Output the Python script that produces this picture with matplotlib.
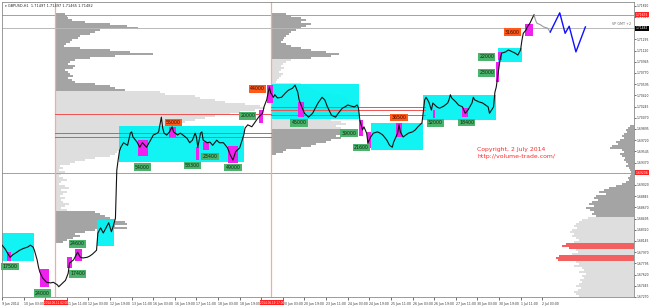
import matplotlib
matplotlib.use("Agg")
import matplotlib.pyplot as plt
import matplotlib.transforms as mtransforms
import numpy as np

# ---------------- price path (H1 bar index, price) ----------------
bar_idx = [0, 2, 4, 6, 8, 11, 13, 16, 19, 21, 23, 24, 26, 27, 28, 30, 33, 36, 38, 41, 42, 44, 47, 49,
           50, 53, 54, 56, 58, 60, 63, 65, 67, 70, 71, 73, 75, 77, 79, 81, 82, 84, 85, 86, 87, 88,
           90, 93, 95, 96, 97, 100, 102, 104, 107, 110, 112, 115, 116, 118, 119, 120, 122, 124, 126,
           127, 130, 132, 134, 137, 139, 141, 143, 144, 145, 147, 148, 149, 152, 154, 156, 159, 161,
           164, 167, 169, 171, 173, 176, 179, 180, 182, 185, 187, 190, 193, 194, 196, 198, 199, 201,
           202, 204, 207, 210, 212, 215, 217, 219, 220, 222, 224, 227, 230, 232, 234, 237, 239, 241,
           244, 247, 249, 252, 254, 256, 259, 261, 263, 264, 265, 267, 268, 270, 271, 273, 275, 278,
           280, 282, 285, 287, 289, 290, 293, 294, 295, 297, 299, 301, 304, 306, 308, 311, 313, 314,
           316, 318, 319, 322, 324, 327, 330, 331, 332, 333, 336, 338, 341, 343, 345, 348, 349, 350,
           353, 356, 358, 360, 361, 364, 365, 366, 367, 368, 369, 370, 373, 375, 378, 380, 382, 384,
           385, 386, 388, 389, 391, 393, 394]
close = [1.6808, 1.6803, 1.6796, 1.6789, 1.6793, 1.6797, 1.6800, 1.6803, 1.6805, 1.6808, 1.6805,
         1.6800, 1.6785, 1.6774, 1.6766, 1.6757, 1.6750, 1.6749, 1.6750, 1.6746, 1.6743, 1.6747,
         1.6753, 1.6764, 1.6780, 1.6785, 1.6789, 1.6797, 1.6789, 1.6788, 1.6789, 1.6791, 1.6794,
         1.6800, 1.6827, 1.6835, 1.6827, 1.6835, 1.6843, 1.6829, 1.6835, 1.6850, 1.6925, 1.6941,
         1.6955, 1.6961,
         1.6968, 1.6964, 1.6983, 1.6985, 1.6977, 1.6969, 1.6961, 1.6968, 1.6961, 1.6972, 1.6980,
         1.6983, 1.6985, 1.7008, 1.6991, 1.6983, 1.6980, 1.6985, 1.6993, 1.6985, 1.6980, 1.6983,
         1.6980, 1.6975, 1.6968, 1.6972, 1.6983, 1.6977, 1.6961, 1.6983, 1.6985, 1.6972, 1.6968,
         1.6969, 1.6964, 1.6972, 1.6968, 1.6968, 1.6960, 1.6949, 1.6941, 1.6954, 1.6960, 1.6980,
         1.6991, 1.6996, 1.6993, 1.6999, 1.7008, 1.7014, 1.7024, 1.7035, 1.7055, 1.7046, 1.7039,
         1.7043, 1.7038, 1.7039, 1.7046, 1.7050, 1.7053, 1.7058, 1.7047, 1.7035, 1.7024, 1.7014,
         1.7008, 1.7014, 1.7022, 1.7030, 1.7039, 1.7035, 1.7024, 1.7011, 1.7008, 1.7014, 1.7022,
         1.7024, 1.7027, 1.7025, 1.7024, 1.7027, 1.7022, 1.7003, 1.6988, 1.6993, 1.6983, 1.6968,
         1.6977, 1.6983, 1.6985, 1.6983, 1.6980, 1.6972, 1.6964, 1.6961, 1.6969, 1.6983, 1.6996,
         1.6985, 1.6977, 1.6980, 1.6983, 1.6985, 1.6988, 1.6993, 1.6999, 1.7035, 1.7039, 1.7032,
         1.7019, 1.7030, 1.7024, 1.7022, 1.7025, 1.7030, 1.7035, 1.7043, 1.7038, 1.7032, 1.7027,
         1.7024, 1.7014, 1.7019, 1.7030, 1.7039, 1.7035, 1.7032, 1.7030, 1.7027, 1.7024, 1.7014,
         1.7024, 1.7047, 1.7055, 1.7071, 1.7086, 1.7100, 1.7108, 1.7110, 1.7113, 1.7110, 1.7108,
         1.7105, 1.7113, 1.7128, 1.7139, 1.7144, 1.7149, 1.7155, 1.7164, 1.7168]
tail_idx = [394, 395, 396, 399, 401, 404, 405, 406]
tail_close = [1.7168, 1.7160, 1.7155, 1.7152, 1.7149, 1.7147, 1.7144, 1.7141]
proj_idx = [406, 413, 417, 420, 425, 432]
proj_price = [1.7141, 1.7171, 1.7139, 1.7150, 1.7110, 1.7149]

# ---------------- axes labels ----------------
time_labels = ["9 Jun 2014", "10 Jun 03:00", "10 Jun 19:00", "11 Jun 11:00", "12 Jun 03:00",
               "12 Jun 19:00", "13 Jun 11:00", "16 Jun 03:00", "16 Jun 19:00", "17 Jun 11:00",
               "18 Jun 03:00", "18 Jun 19:00", "19 Jun 11:00", "20 Jun 03:00", "20 Jun 19:00",
               "23 Jun 11:00", "24 Jun 03:00", "24 Jun 19:00", "25 Jun 11:00", "26 Jun 03:00",
               "26 Jun 19:00", "27 Jun 11:00", "30 Jun 03:00", "30 Jun 19:00", "1 Jul 11:00",
               "2 Jul 03:00"]
bars_per_label = 16
marker_bars = [39, 199]
marker_labels = ["2014.06.11 02:00", "2014.06.19 17:00"]
price_ticks = [1.67270, 1.67445, 1.67620, 1.67795, 1.67970, 1.68145, 1.68320, 1.68495, 1.68670,
               1.68845, 1.69020, 1.69195, 1.69370, 1.69545, 1.69720, 1.69895, 1.70070, 1.70245,
               1.70420, 1.70595, 1.70770, 1.70945, 1.71120, 1.71295, 1.71470, 1.71645, 1.71820]
title_text = "\u25be GBPUSD,H1  1.71497 1.71497 1.71465 1.71482"

# ---------------- zones ----------------
cyan_start = [0, 70, 87, 199, 273, 312, 367]
cyan_end = [24, 83, 179, 264, 312, 366, 385]
cyan_low = [1.6783, 1.6807, 1.6938, 1.7005, 1.6957, 1.7004, 1.7094]
cyan_high = [1.6827, 1.6847, 1.6994, 1.7060, 1.6999, 1.7043, 1.7116]

mag_start = [4, 28, 48, 54, 101, 124, 144, 149, 167, 190, 196, 219, 264, 270, 292, 319, 341, 366, 367, 387]
mag_end = [7, 35, 52, 59, 108, 129, 146, 153, 175, 193, 201, 224, 267, 273, 296, 321, 345, 368, 370, 393]
mag_low = [1.6783, 1.6743, 1.6772, 1.6783, 1.6947, 1.6977, 1.6941, 1.6957, 1.6936, 1.6999, 1.7030,
           1.7008, 1.6979, 1.6960, 1.6977, 1.7007, 1.7008, 1.7063, 1.7097, 1.7135]
mag_high = [1.6797, 1.6771, 1.6790, 1.6802, 1.6972, 1.6993, 1.6961, 1.6969, 1.6963, 1.7019, 1.7058,
            1.7032, 1.7004, 1.6985, 1.6999, 1.7019, 1.7022, 1.7094, 1.7110, 1.7154]

green_text = ["17500", "24000", "17400", "24600", "54000", "58300", "23400", "49000", "20000",
              "45000", "39000", "21600", "32000", "18400", "22000", "23000"]
green_bar = [6, 30, 56, 56, 104, 141, 154, 171, 182, 220, 257, 266, 321, 344, 359, 359]
green_price = [1.6775, 1.6733, 1.6763, 1.6810, 1.6930, 1.6932, 1.6947, 1.6929, 1.7010, 1.6999,
               1.6983, 1.6961, 1.6999, 1.7000, 1.7102, 1.7077]
orange_text = ["55000", "44000", "36500", "31600"]
orange_bar = [127, 189, 294, 378]
orange_price = [1.7000, 1.7052, 1.7007, 1.7141]

# horizontal levels
full_levels = [1.7168, 1.7147, 1.6921]
full_colors = ["#f08080", "#b8b8b8", "#f08080"]
axis_tags = ["1.71675", "1.71482", "1.69206"]
axis_tag_colors = ["#ff2020", "#000000", "#ff2020"]
seg_start = [39, 39, 39, 199, 199, 199]
seg_end = [199, 199, 199, 313, 313, 313]
seg_price = [1.7013, 1.6983, 1.6977, 1.7024, 1.7019, 1.7011]

# ---------------- volume profiles ----------------
p1_anchor = 39
p1_top = 1.71692
p1_vol = [10, 12, 13, 17, 30, 55, 72, 83, 45, 40, 35, 25, 23, 17, 15, 11, 9, 25, 55, 75, 98, 60, 35,
          20, 15, 13, 20, 18, 10, 13, 15, 18, 13, 17, 20, 40, 55, 60, 70,
          105, 110, 140, 145, 160, 170, 190, 205, 210, 200, 185, 175, 160, 150, 140, 130, 120, 110,
          100, 90, 85, 80, 78, 75, 72, 70, 68, 66, 65, 65, 62, 60, 55, 40, 30, 20, 15, 5, 8, 4, 10,
          6, 4, 8, 12, 6, 4, 10, 14, 6, 12, 8, 5, 10, 6, 8, 14, 10, 6, 12,
          40, 45, 50, 55, 60, 70, 72, 60, 72, 40, 30, 20, 25, 18, 12, 8]
p2_anchor = 199
p2_top = 1.71692
p2_vol = [15, 20, 30, 35, 30, 40, 35, 30, 25, 20, 18, 15, 13, 12, 10, 15, 20, 30, 40, 55, 68, 60, 40,
          20, 15, 12, 10, 13, 10, 8, 12, 10, 8, 6, 5, 30, 35, 40, 45, 50, 60, 70, 75, 78, 80, 80,
          80, 78, 76, 74, 70, 65, 60, 60, 70, 75, 65, 70,
          80, 85, 75, 65, 70, 60, 55, 45, 40, 30, 15, 12, 5]
p3_anchor = 468
p3_top = 1.69942
p3_vol = [4, 6, 8, 7, 10, 12, 10, 14, 18, 16, 22, 24, 12, 10, 14, 12, 9, 10, 8, 6, 8, 5, 4, 3, 3, 4,
          6, 5, 8, 12, 18, 25, 30, 35, 28, 38, 40, 36, 42, 45, 40, 48, 44, 40, 42, 38,
          46, 52, 55, 58, 60, 57, 62, 64, 60, 62, 58, 55, 60, 68, 72, 65, 58, 56, 62, 75, 78, 76,
          58, 55, 60, 52, 50, 55, 48, 52, 50, 54, 52, 55, 58, 53, 56, 60, 58, 55]
p3_red_rows = [59, 60, 61, 65, 66, 67]
row_step = 0.0003125
vol_scale = 0.74  # bars of width per volume unit

DARK = "#a4a4a4"
LIGHT = "#dedede"

fig = plt.figure(figsize=(6.5, 3.06), dpi=100)
ax = fig.add_axes([2 / 650, 9 / 306, 632 / 650, 295 / 306])
ax.set_xlim(0, 468)
ax.set_ylim(1.67270, 1.71879)


def profile_levels(top, n):
    return top - row_step * np.arange(n)


bar_h = row_step * 0.55
# profile 1
lv = profile_levels(p1_top, len(p1_vol))
cols = [DARK if (i <= 38 or i >= 99) else LIGHT for i in range(len(p1_vol))]
ax.barh(lv, np.array(p1_vol) * vol_scale, left=p1_anchor, height=bar_h,
        color=cols, linewidth=0, zorder=1)
# profile 2
lv = profile_levels(p2_top, len(p2_vol))
cols = [DARK if (i <= 22 or i >= 58) else LIGHT for i in range(len(p2_vol))]
ax.barh(lv, np.array(p2_vol) * vol_scale, left=p2_anchor, height=bar_h,
        color=cols, linewidth=0, zorder=1)
# profile 3 (right side)
lv = profile_levels(p3_top, len(p3_vol))
w3 = np.array(p3_vol) * vol_scale
cols = []
for i in range(len(p3_vol)):
    if i in p3_red_rows:
        cols.append("#f26060")
    elif i <= 45:
        cols.append(DARK)
    else:
        cols.append(LIGHT)
hts = [row_step * 0.95 if i in p3_red_rows else bar_h for i in range(len(p3_vol))]
ax.barh(lv, w3, left=p3_anchor - w3, height=hts, color=cols, linewidth=0, zorder=1)

# cyan zones
for s, e, lo, hi in zip(cyan_start, cyan_end, cyan_low, cyan_high):
    ax.add_patch(plt.Rectangle((s, lo), e - s, hi - lo, facecolor="#00f4f4", edgecolor="none",
                               alpha=0.93, zorder=2))
# magenta zones
for s, e, lo, hi in zip(mag_start, mag_end, mag_low, mag_high):
    ax.add_patch(plt.Rectangle((s, lo), e - s, hi - lo, facecolor="#f020f0", edgecolor="none",
                               zorder=3))

# lines
for lvl, c in zip(full_levels, full_colors):
    ax.axhline(lvl, color=c, lw=0.7, zorder=2.5)
for s, e, p in zip(seg_start, seg_end, seg_price):
    ax.plot([s, e], [p, p], color="#f05050", lw=0.7, zorder=2.6)
for b in marker_bars:
    ax.axvline(b, color="#f6a8a8", lw=0.9, zorder=2.5)

# price
ax.plot(bar_idx, close, color="#111111", lw=0.8, zorder=5)
ax.plot(tail_idx, tail_close, color="#9a9a9a", lw=0.8, zorder=5)
ax.plot(proj_idx, proj_price, color="#1010ff", lw=1.0, zorder=5)

# volume labels
for t, b, p in zip(green_text, green_bar, green_price):
    ax.text(b, p, t, fontsize=3.4, ha="center", va="center", color="#0b2a10", zorder=7,
            bbox=dict(boxstyle="square,pad=0.25", fc="#4cb36c", ec="none"))
for t, b, p in zip(orange_text, orange_bar, orange_price):
    ax.text(b, p, t, fontsize=3.4, ha="center", va="center", color="#3a0a00", zorder=7,
            bbox=dict(boxstyle="square,pad=0.25", fc="#ff5a1a", ec="none"))

# texts
ax.text(0.004, 0.992, title_text, transform=ax.transAxes, fontsize=2.5, va="top", ha="left",
        color="#222222")
ax.text(352, 1.6957, "Copyright, 2 July 2014", fontsize=4.4, color="#ff2a2a", va="center", ha="left")
ax.text(352, 1.6946, "http://volume-trade.com/", fontsize=4.4, color="#ff2a2a", va="center", ha="left")
ax.text(452, 1.7154, "VP GMT +2", fontsize=2.4, color="#666666", va="center", ha="left")

# axes styling
ax.yaxis.tick_right()
ax.set_yticks(price_ticks)
ax.set_yticklabels(["%.5f" % v for v in price_ticks], fontsize=2.2, color="#333333")
ax.tick_params(axis="y", length=1.2, width=0.4, pad=0.5)
tick_pos = [k * bars_per_label for k in range(len(time_labels))]
ax.set_xticks(tick_pos)
# labels hidden under the highlighted marker dates are left blank on screen
shown = [("" if any(abs(p - m) < 8 for m in marker_bars) else t)
         for p, t in zip(tick_pos, time_labels)]
ax.set_xticklabels(shown, fontsize=2.25, color="#333333")
for lab in ax.get_xticklabels():
    lab.set_ha("left")
ax.tick_params(axis="x", length=2.5, width=0.4, pad=0.8)
for sp in ax.spines.values():
    sp.set_color("#8a8a8a")
    sp.set_linewidth(0.6)

trans_y = mtransforms.blended_transform_factory(ax.transAxes, ax.transData)
for lvl, tag, c in zip(full_levels, axis_tags, axis_tag_colors):
    ax.text(1.003, lvl, tag, transform=trans_y, fontsize=2.2, color="white", va="center", ha="left",
            clip_on=False, zorder=10, bbox=dict(boxstyle="square,pad=0.2", fc=c, ec="none"))
trans_x = mtransforms.blended_transform_factory(ax.transData, ax.transAxes)
for b, t in zip(marker_bars, marker_labels):
    ax.text(b + 1, -0.012, t, transform=trans_x, fontsize=2.0, color="white", va="top", ha="center",
            clip_on=False, zorder=10, bbox=dict(boxstyle="square,pad=0.12", fc="#ff2020", ec="none"))

fig.savefig("out.png", dpi=100, facecolor="white")
